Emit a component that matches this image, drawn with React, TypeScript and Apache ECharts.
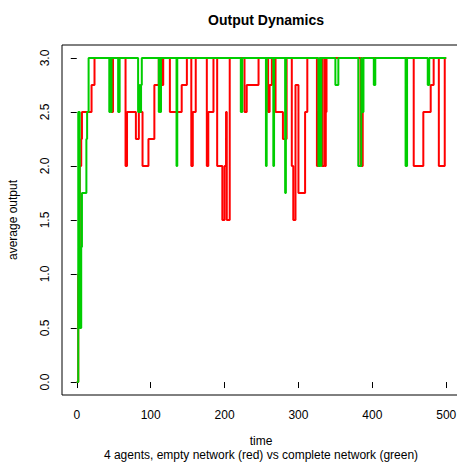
import React, { useEffect, useRef } from "react";
import * as echarts from "echarts";

// Change points: value holds from the given time until the next change point.
const redTimes = [0, 2, 4, 6, 7, 20, 24, 47, 49, 66, 68, 80, 84, 89, 97, 105, 111, 115, 117, 126, 142, 149, 155, 157, 161, 176, 178, 185, 190, 197, 200, 202, 203, 207, 227, 230, 246, 259, 261, 264, 269, 279, 284, 291, 293, 296, 300, 309, 312, 325, 326, 329, 332, 335, 336, 337, 338, 384, 387, 456, 469, 479, 483, 490, 498, 500];
const redValues = [0, 1.0, 2.0, 2.25, 2.5, 2.75, 3.0, 2.5, 3.0, 2.0, 2.5, 2.25, 2.5, 2.0, 2.25, 2.75, 3.0, 2.75, 3.0, 2.5, 2.75, 3.0, 2.0, 2.5, 3.0, 2.0, 2.5, 3.0, 2.0, 1.5, 2.0, 2.5, 1.5, 3.0, 2.5, 2.75, 3.0, 2.5, 2.75, 3.0, 2.5, 2.25, 3.0, 2.0, 1.5, 2.75, 1.75, 2.5, 3.0, 2.0, 2.5, 3.0, 2.0, 3.0, 2.0, 2.5, 3.0, 2.0, 3.0, 2.0, 2.5, 2.75, 3.0, 2.0, 3.0, 3.0];

const greenTimes = [0, 2, 4, 6, 7, 13, 14, 16, 44, 45, 46, 47, 56, 58, 83, 85, 86, 87, 88, 111, 112, 113, 114, 135, 136, 222, 224, 256, 257, 266, 267, 282, 283, 327, 329, 330, 331, 350, 354, 381, 385, 386, 388, 402, 404, 445, 447, 475, 477, 500];
const greenValues = [0, 2.5, 0.5, 1.25, 1.75, 2.25, 2.5, 3.0, 2.5, 3.0, 2.5, 3.0, 2.5, 3.0, 2.5, 2.75, 2.5, 2.75, 3.0, 2.5, 3.0, 2.5, 3.0, 2.0, 3.0, 2.5, 3.0, 2.0, 3.0, 2.0, 3.0, 1.75, 3.0, 2.0, 3.0, 2.0, 3.0, 2.75, 3.0, 2.0, 3.0, 2.5, 3.0, 2.75, 3.0, 2.0, 3.0, 2.75, 3.0, 3.0];

const xTicks = [0, 100, 200, 300, 400, 500];
const yTicks = [0, 0.5, 1.0, 1.5, 2.0, 2.5, 3.0];

const FONT = "Liberation Sans, Arial, Helvetica, sans-serif";

export default function App() {
  const ref = useRef<HTMLDivElement>(null);
  useEffect(() => {
    if (!ref.current) return;
    const chart = echarts.init(ref.current, null, { renderer: "svg" });
    const red = redTimes.map((t, i) => [t, redValues[i]]);
    const green = greenTimes.map((t, i) => [t, greenValues[i]]);
    const boxStyle = { stroke: "#000", lineWidth: 1 };
    chart.setOption({
      animation: false,
      backgroundColor: "#ffffff",
      textStyle: { fontFamily: FONT },
      title: {
        text: "Output Dynamics",
        left: 261,
        top: 8,
        textAlign: "center",
        textStyle: { fontSize: 14, fontWeight: "bold", color: "#000", fontFamily: FONT },
      },
      grid: {
        left: 62,
        top: 45,
        right: 29,
        bottom: 68,
        show: false,
      },
      xAxis: {
        type: "value",
        min: -20,
        max: 520,
        axisLine: { show: false },
        splitLine: { show: false },
        axisTick: { show: true, length: 6, customValues: xTicks, lineStyle: { color: "#000", width: 1 } },
        axisLabel: {
          customValues: xTicks,
          fontSize: 12,
          color: "#000",
          margin: 14,
          fontFamily: FONT,
          formatter: (v: number) => String(v),
        },
      },
      yAxis: {
        type: "value",
        min: -0.12,
        max: 3.12,
        axisLine: { show: false },
        splitLine: { show: false },
        axisTick: { show: true, length: 6, customValues: yTicks, lineStyle: { color: "#000", width: 1 } },
        axisLabel: {
          customValues: yTicks,
          fontSize: 12,
          color: "#000",
          rotate: 90,
          margin: 11,
          fontFamily: FONT,
          formatter: (v: number) => v.toFixed(1),
        },
      },
      graphic: [
        { type: "line", shape: { x1: 62, y1: 45, x2: 490, y2: 45 }, style: boxStyle, z: 10 },
        { type: "line", shape: { x1: 62, y1: 45, x2: 62, y2: 395 }, style: boxStyle, z: 10 },
        { type: "line", shape: { x1: 62, y1: 395, x2: 490, y2: 395 }, style: boxStyle, z: 10 },
        {
          type: "text",
          x: 261,
          y: 441,
          style: { text: "time", fontSize: 12, fill: "#000", textAlign: "center", textVerticalAlign: "middle", fontFamily: FONT },
        },
        {
          type: "text",
          x: 261,
          y: 455,
          style: {
            text: "4 agents, empty network (red) vs complete network (green)",
            fontSize: 12,
            fill: "#000",
            textAlign: "center",
            textVerticalAlign: "middle",
            fontFamily: FONT,
          },
        },
        {
          type: "text",
          x: 13,
          y: 220,
          rotation: Math.PI / 2,
          style: { text: "average output", fontSize: 12, fill: "#000", textAlign: "center", textVerticalAlign: "middle", fontFamily: FONT },
        },
      ],
      series: [
        {
          type: "line",
          data: red,
          step: "end",
          showSymbol: false,
          symbol: "none",
          lineStyle: { color: "#ff0000", width: 2 },
          z: 2,
        },
        {
          type: "line",
          data: green,
          step: "end",
          showSymbol: false,
          symbol: "none",
          lineStyle: { color: "#00cd00", width: 2 },
          z: 3,
        },
      ],
    });
    return () => chart.dispose();
  }, []);
  return (
    <div style={{ position: "fixed", left: 0, top: 0, width: 457, height: 463, overflow: "hidden", background: "#fff" }}>
      <div ref={ref} style={{ width: 490, height: 463 }} />
    </div>
  );
}
